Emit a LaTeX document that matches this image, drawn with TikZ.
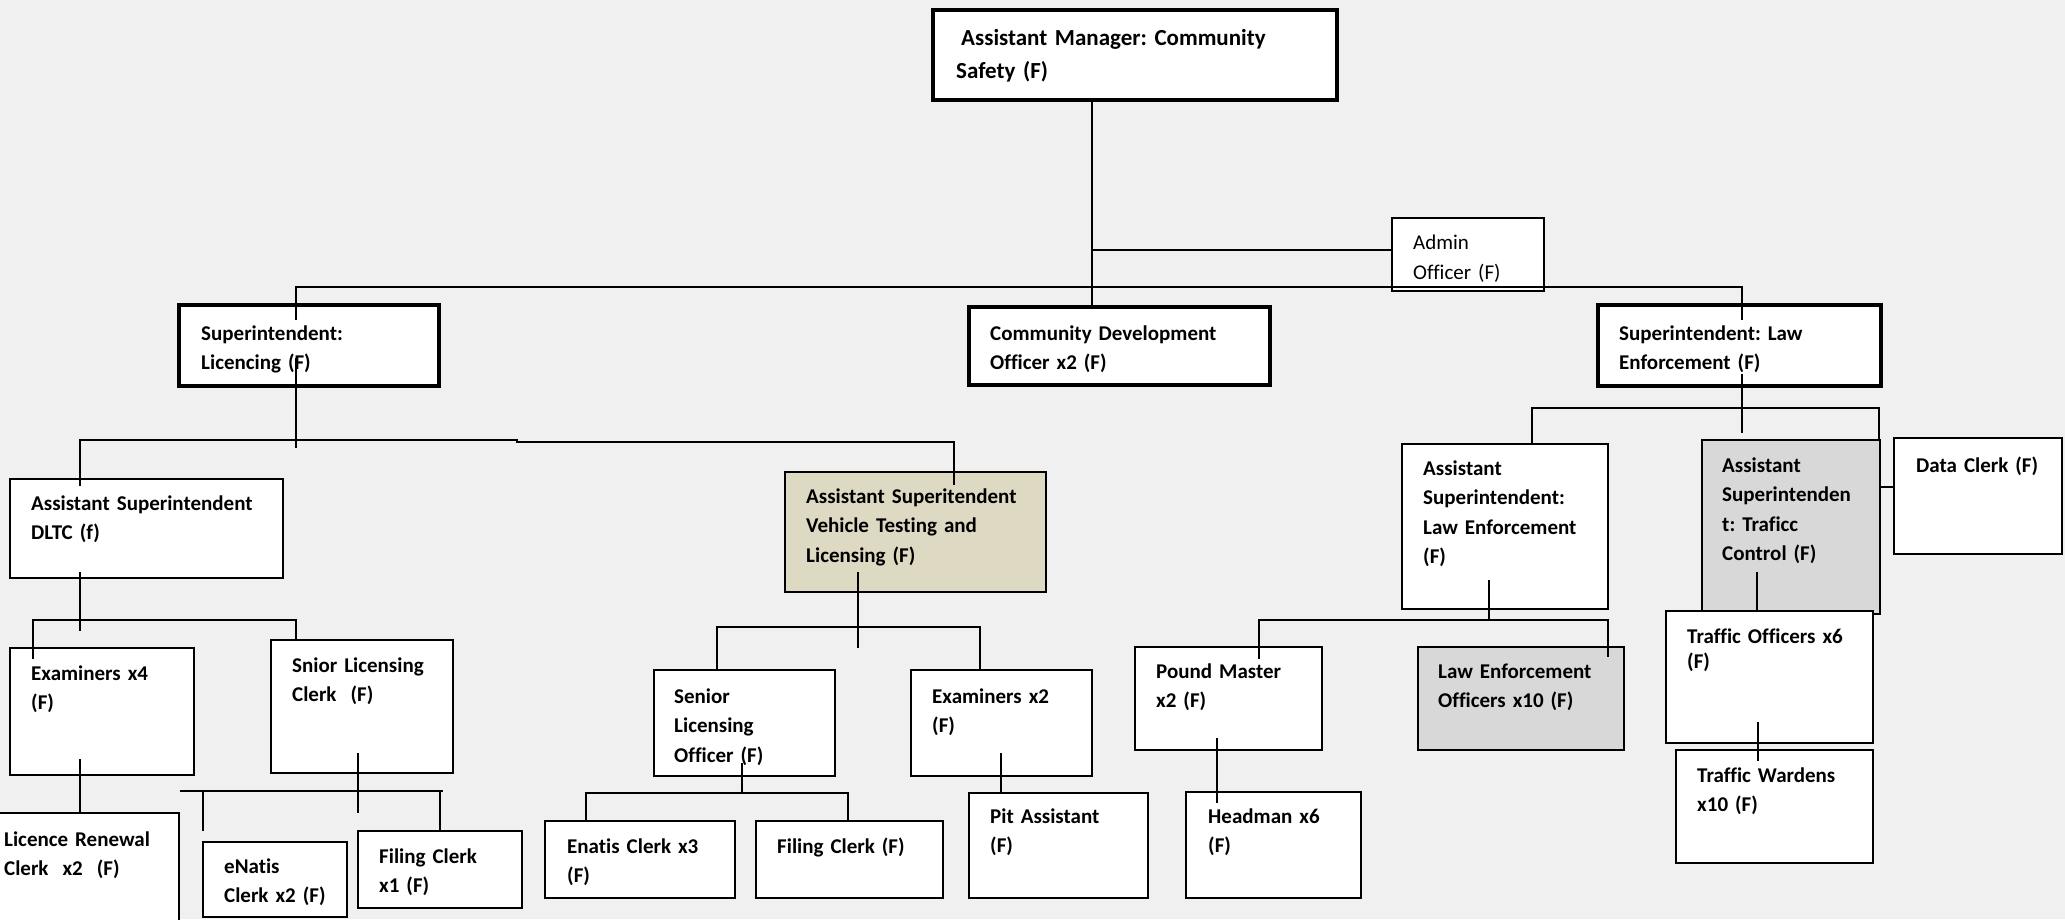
\documentclass[tikz,border=0pt]{standalone}
\usepackage{fontspec}
\setmainfont{Carlito}[Ligatures=NoCommon]
\frenchspacing
\definecolor{chartBg}{HTML}{F0F0F0}
\definecolor{chartTan}{HTML}{DDD9C3}
\definecolor{chartGrey}{HTML}{D8D8D8}

\begin{document}
\begin{tikzpicture}[x=1pt, y=-1pt,
  post/.style={draw=black, fill=white, line width=2.7pt, anchor=north west, inner sep=0pt, outer sep=0pt},
  headpost/.style={post, line width=4.5pt},
  lbl/.style={anchor=base west, inner sep=0pt, text width=320pt, align=left, font=\bfseries\fontsize{21}{29.5}\selectfont},
  link/.style={line width=2pt}]
  \useasboundingbox (0,0) rectangle (2065,919);
  \clip (0,0) rectangle (2065,919);
  \fill[chartBg] (0,0) rectangle (2065,919);

  \node[headpost, minimum width=404, minimum height=90] (mgr) at (933,10) {};
  \node[lbl, text width=420pt, font=\bfseries\fontsize{23}{33}\selectfont] (mgr-t) at (956,45) {\hspace*{5pt}Assistant Manager: Community\\Safety (F)};
  \node[post, minimum width=152, minimum height=73] (admin) at (1392,218) {};
  \node[lbl, font=\fontsize{21}{30}\selectfont] (admin-t) at (1413,249) {Admin\\Officer (F)};

  \node[headpost, minimum width=260, minimum height=81] (lic) at (179,305) {};
  \node[lbl] (lic-t) at (201,340) {Superintendent:\\Licencing (F)};
  \node[headpost, minimum width=301, minimum height=78] (cdev) at (969,307) {};
  \node[lbl] (cdev-t) at (990,340) {Community Development\\Officer x2 (F)};
  \node[headpost, minimum width=283, minimum height=81] (lawenf) at (1598,305) {};
  \node[lbl] (lawenf-t) at (1619,340) {Superintendent: Law\\Enforcement (F)};

  \node[post, minimum width=273, minimum height=99] (dltc) at (10,479) {};
  \node[lbl] (dltc-t) at (31,510) {Assistant Superintendent\\DLTC (f)};
  \node[post, fill=chartTan, minimum width=261, minimum height=120] (vtl) at (785,472) {};
  \node[lbl] (vtl-t) at (806,503) {Assistant Superitendent\\Vehicle Testing and\\Licensing (F)};
  \node[post, minimum width=206, minimum height=165] (asle) at (1402,444) {};
  \node[lbl] (asle-t) at (1423,475) {Assistant\\Superintendent:\\Law Enforcement\\(F)};
  \node[post, fill=chartGrey, minimum width=178, minimum height=174] (atc) at (1702,440) {};
  \node[lbl] (atc-t) at (1722,472) {Assistant\\Superintenden\\t: Traficc\\Control (F)};
  \node[post, minimum width=168, minimum height=116] (dclerk) at (1894,438) {};
  \node[lbl] (dclerk-t) at (1916,472) {Data Clerk (F)};

  \node[post, minimum width=184, minimum height=127] (exam4) at (10,648) {};
  \node[lbl] (exam4-t) at (31,680) {Examiners x4\\(F)};
  \node[post, minimum width=182, minimum height=133] (snior) at (271,640) {};
  \node[lbl] (snior-t) at (292,672) {Snior Licensing\\Clerk\ \ (F)};
  \node[post, minimum width=181, minimum height=106] (slo) at (654,670) {};
  \node[lbl] (slo-t) at (674,703) {Senior\\Licensing\\Officer (F)};
  \node[post, minimum width=181, minimum height=106] (exam2) at (911,670) {};
  \node[lbl] (exam2-t) at (932,703) {Examiners x2\\(F)};
  \node[post, minimum width=187, minimum height=103] (pound) at (1135,647) {};
  \node[lbl] (pound-t) at (1156,678) {Pound Master\\x2 (F)};
  \node[post, fill=chartGrey, minimum width=206, minimum height=103] (leo) at (1418,647) {};
  \node[lbl] (leo-t) at (1438,678) {Law Enforcement\\Officers x10 (F)};
  \node[post, minimum width=207, minimum height=132] (tro) at (1666,611) {};
  \node[lbl] (tro-t) at (1687,643) {Traffic Officers x6\\[-4pt](F)};
  \node[post, minimum width=197, minimum height=113] (trw) at (1676,750) {};
  \node[lbl] (trw-t) at (1697,782) {Traffic Wardens\\x10 (F)};

  \node[post, minimum width=181, minimum height=112] (lrc) at (-2,813) {};
  \node[lbl] (lrc-t) at (4,846) {Licence Renewal\\Clerk\ \ x2\ \ (F)};
  \node[post, minimum width=144, minimum height=75] (enatis) at (203,842) {};
  \node[lbl] (enatis-t) at (224,873) {eNatis\\Clerk x2 (F)};
  \node[post, minimum width=164, minimum height=77] (filing1) at (358,831) {};
  \node[lbl] (filing1-t) at (379,863) {Filing Clerk\\x1 (F)};
  \node[post, minimum width=190, minimum height=77] (enatis3) at (545,821) {};
  \node[lbl] (enatis3-t) at (567,853) {Enatis Clerk x3\\(F)};
  \node[post, minimum width=187, minimum height=77] (filing) at (756,821) {};
  \node[lbl] (filing-t) at (777,853) {Filing Clerk (F)};
  \node[post, minimum width=179, minimum height=105] (pit) at (969,793) {};
  \node[lbl] (pit-t) at (990,823) {Pit Assistant\\(F)};
  \node[post, minimum width=175, minimum height=106] (headman) at (1186,792) {};
  \node[lbl] (headman-t) at (1208,823) {Headman x6\\(F)};

  \coordinate (mgrTap) at (1092,250);
  \draw[link] (mgr.south -| mgrTap) -- (mgrTap |- cdev.north);
  \draw[link] (mgrTap) -- (mgrTap -| admin.west);
  \coordinate (supL) at (296,287);
  \coordinate (supR) at (1742,287);
  \draw[link] (supL) ++(0,33) -- (supL) -- (supR) -- ++(0,33);

  \coordinate (licTap) at (296,358);
  \coordinate (licBusL) at (80,440);
  \coordinate (licStep) at (517,441);
  \coordinate (licBusR) at (954,442);
  \draw[link] (licTap) -- ++(0,90);
  \draw[link] (licBusL) ++(0,46) -- (licBusL) -- (licStep |- licBusL) -- (licStep |- licBusR) -- (licBusR) -- ++(0,43);

  \coordinate (dltcTap) at (80,572);
  \coordinate (dltcBusL) at (33,620);
  \coordinate (dltcBusR) at (296,620);
  \draw[link] (dltcTap) -- ++(0,59);
  \draw[link] (dltcBusL) ++(0,39) -- (dltcBusL) -- (dltcBusR) -- (dltcBusR |- snior.north);
  \coordinate (ex4Tap) at (80,759);
  \draw[link] (ex4Tap) -- (ex4Tap |- lrc.north);

  \coordinate (sniorTap) at (358,753);
  \coordinate (sniorBusL) at (180,791);
  \coordinate (sniorBusR) at (443,791);
  \coordinate (enatisTap) at (203,791);
  \draw[link] (sniorTap) -- ++(0,60);
  \draw[link] (sniorBusL) -- (sniorBusR);
  \draw[link] (enatisTap) -- ++(0,40);
  \draw[link] (filing1.north |- sniorBusL) -- (filing1.north);

  \coordinate (vtlTap) at (858,572);
  \coordinate (vtlBusL) at (717,627);
  \coordinate (vtlBusR) at (980,627);
  \draw[link] (vtlTap) -- ++(0,76);
  \draw[link] (vtlBusL |- slo.north) -- (vtlBusL) -- (vtlBusR) -- (vtlBusR |- exam2.north);
  \coordinate (sloTap) at (742,763);
  \coordinate (sloBusL) at (586,793);
  \coordinate (sloBusR) at (848,793);
  \draw[link] (sloTap) -- (sloTap |- sloBusL);
  \draw[link] (sloBusL |- enatis3.north) -- (sloBusL) -- (sloBusR) -- (sloBusR |- filing.north);
  \coordinate (ex2Tap) at (1001,753);
  \draw[link] (ex2Tap) -- (ex2Tap |- pit.north);

  \coordinate (lawTap) at (1742,374);
  \coordinate (lawBusL) at (1532,408);
  \coordinate (lawBusR) at (1879,408);
  \draw[link] (lawTap) -- ++(0,59);
  \draw[link] (lawBusL |- asle.north) -- (lawBusL) -- (lawBusR) -- (lawBusR |- atc.north);
  \coordinate (dclerkTap) at (1880,487);
  \draw[link] (dclerkTap) -- (dclerkTap -| dclerk.west);

  \coordinate (asleTap) at (1489,580);
  \coordinate (asleBusL) at (1259,620);
  \coordinate (asleBusR) at (1608,620);
  \draw[link] (asleTap) -- (asleTap |- asleBusL);
  \draw[link] (asleBusL) ++(0,39) -- (asleBusL) -- (asleBusR) -- ++(0,37);
  \coordinate (poundTap) at (1217,738);
  \draw[link] (poundTap) -- ++(0,65);

  \coordinate (atcTap) at (1757,572);
  \draw[link] (atcTap) -- (atcTap |- tro.north);
  \coordinate (troTap) at (1758,722);
  \draw[link] (troTap) -- ++(0,39);
\end{tikzpicture}
\end{document}
